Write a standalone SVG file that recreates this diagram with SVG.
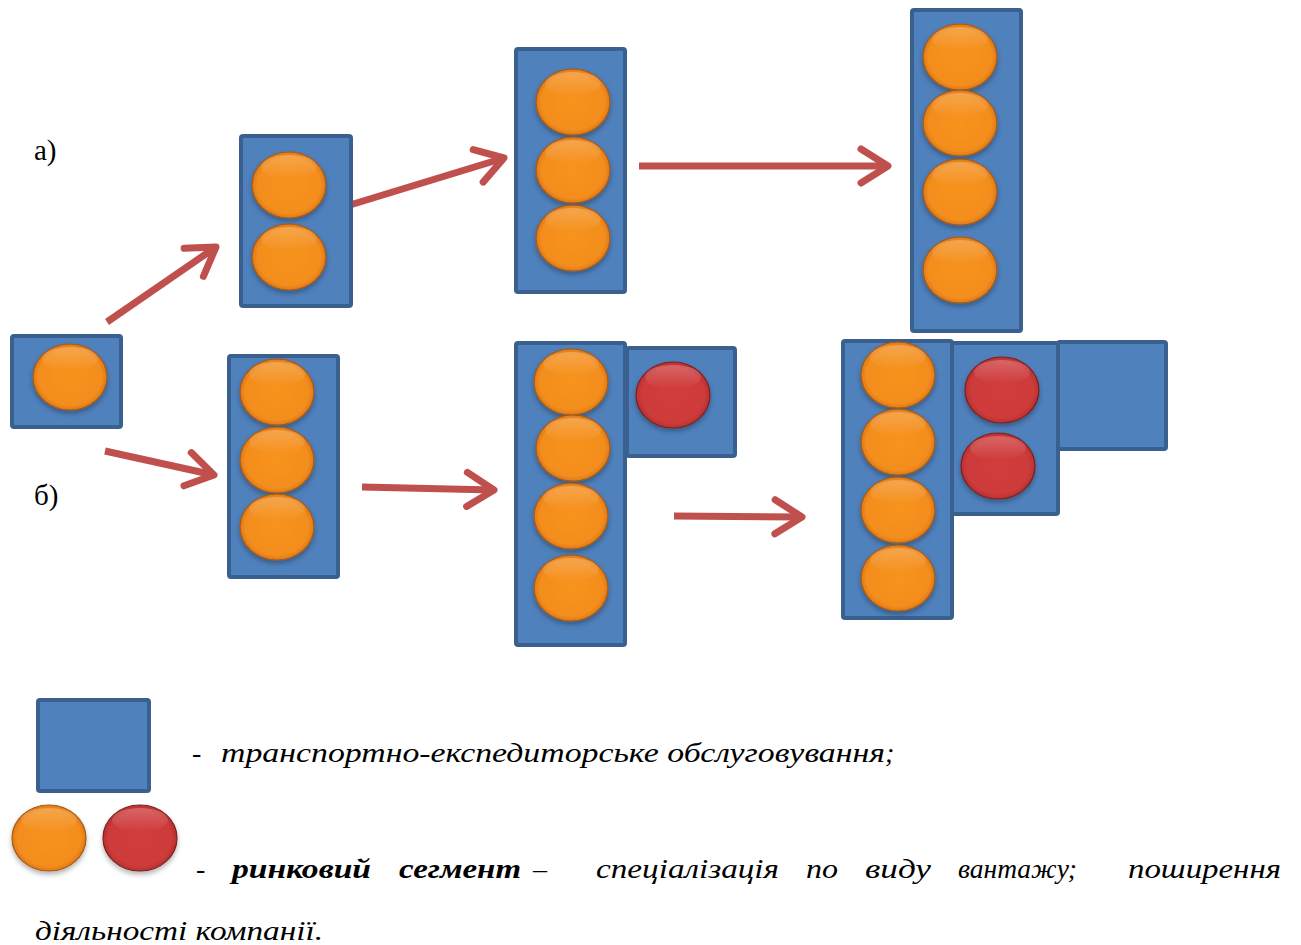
<svg xmlns="http://www.w3.org/2000/svg" width="1301" height="945" viewBox="0 0 1301 945">
  <style>
    .box { fill: #4f81bd; stroke: #3a6090; stroke-width: 4; }
    .or { fill: url(#gOrange); stroke: #a75a12; stroke-width: 1.2; }
    .rd { fill: url(#gRed); stroke: #7e1f1f; stroke-width: 1.2; }
    .hl { fill: url(#gHi); }
    .arrow { fill: none; stroke: #c0504d; stroke-width: 7; marker-end: url(#head); }
    .lbl { font-size: 29px; fill: #000; }
    .leg { font-size: 28px; font-style: italic; fill: #000; }
    .b { font-weight: bold; }
  </style>
  <defs>
    <radialGradient id="gOrange" cx="50%" cy="50%" r="55%">
      <stop offset="0" stop-color="#f7941f"/>
      <stop offset="0.78" stop-color="#f38d1c"/>
      <stop offset="0.93" stop-color="#d9761a"/>
      <stop offset="1" stop-color="#9a5416"/>
    </radialGradient>
    <radialGradient id="gRed" cx="50%" cy="50%" r="55%">
      <stop offset="0" stop-color="#d23c3c"/>
      <stop offset="0.78" stop-color="#cd3a3a"/>
      <stop offset="0.93" stop-color="#b03030"/>
      <stop offset="1" stop-color="#6e1c1c"/>
    </radialGradient>
    <linearGradient id="gHi" x1="0" y1="0" x2="0" y2="1">
      <stop offset="0" stop-color="#fff" stop-opacity="0.22"/>
      <stop offset="1" stop-color="#fff" stop-opacity="0"/>
    </linearGradient>
    <filter id="sh" x="-20%" y="-20%" width="140%" height="150%">
      <feDropShadow dx="0" dy="3" stdDeviation="2.5" flood-color="#000" flood-opacity="0.3"/>
    </filter>
    <marker id="head" markerUnits="userSpaceOnUse" viewBox="0 0 34 40" refX="30" refY="20" markerWidth="34" markerHeight="40" orient="auto" overflow="visible">
      <path d="M3,3 L30,20 L3,37" fill="none" stroke="#c0504d" stroke-width="7" stroke-linecap="round" stroke-linejoin="round"/>
    </marker>
    <g id="orange">
      <ellipse cx="0" cy="0" rx="37" ry="33" class="or" filter="url(#sh)"/>
      <ellipse cx="0" cy="-18" rx="28" ry="12" class="hl"/>
    </g>
    <g id="red">
      <ellipse cx="0" cy="0" rx="37" ry="33" class="rd" filter="url(#sh)"/>
      <ellipse cx="0" cy="-18" rx="28" ry="12" class="hl"/>
    </g>
  </defs>

  <rect width="1301" height="945" fill="#fff"/>

  <!-- row labels -->
  <g font-family="Liberation Serif, Times New Roman, serif">
    <text class="lbl" x="34" y="160">а)</text>
    <text class="lbl" x="34" y="505">б)</text>
  </g>

  <!-- connectors -->
  <g id="connectors">
    <line class="arrow" x1="107" y1="322" x2="216" y2="247"/>
    <line class="arrow" x1="350" y1="205" x2="504" y2="158"/>
    <line class="arrow" x1="639" y1="166" x2="888" y2="166"/>
    <line class="arrow" x1="105" y1="451" x2="214" y2="475"/>
    <line class="arrow" x1="362" y1="487" x2="494" y2="490"/>
    <line class="arrow" x1="674" y1="516" x2="802" y2="517"/>
  </g>

  <!-- starting company -->
  <g id="start">
    <rect class="box" x="12" y="336" width="109" height="91" rx="2"/>
    <use href="#orange" x="70" y="377"/>
  </g>

  <!-- path а) -->
  <g id="a1">
    <rect class="box" x="241" y="136" width="110" height="170" rx="2"/>
    <use href="#orange" x="289" y="185"/>
    <use href="#orange" x="289" y="257"/>
  </g>
  <g id="a2">
    <rect class="box" x="516" y="49" width="109" height="243" rx="2"/>
    <use href="#orange" x="573" y="102"/>
    <use href="#orange" x="573" y="170"/>
    <use href="#orange" x="573" y="238"/>
  </g>
  <g id="a3">
    <rect class="box" x="912" y="10" width="109" height="321" rx="2"/>
    <use href="#orange" x="960" y="57"/>
    <use href="#orange" x="960" y="123"/>
    <use href="#orange" x="960" y="192"/>
    <use href="#orange" x="960" y="270"/>
  </g>

  <!-- path б) -->
  <g id="b1">
    <rect class="box" x="229" y="356" width="109" height="221" rx="2"/>
    <use href="#orange" x="277" y="392"/>
    <use href="#orange" x="277" y="460"/>
    <use href="#orange" x="277" y="527"/>
  </g>
  <g id="b2">
    <rect class="box" x="516" y="343" width="109" height="302" rx="2"/>
    <use href="#orange" x="571" y="382"/>
    <use href="#orange" x="573" y="448"/>
    <use href="#orange" x="571" y="516"/>
    <use href="#orange" x="571" y="588"/>
    <rect class="box" x="627" y="348" width="108" height="108" rx="2"/>
    <use href="#red" x="673" y="395"/>
  </g>
  <g id="b3">
    <rect class="box" x="843" y="341" width="109" height="277" rx="2"/>
    <use href="#orange" x="898" y="375"/>
    <use href="#orange" x="898" y="442"/>
    <use href="#orange" x="898" y="510"/>
    <use href="#orange" x="898" y="578"/>
    <rect class="box" x="952" y="343" width="106" height="171" rx="2"/>
    <use href="#red" x="1002" y="390"/>
    <use href="#red" x="998" y="466"/>
    <rect class="box" x="1058" y="342" width="108" height="107" rx="2"/>
  </g>

  <!-- legend -->
  <g id="legend" font-family="Liberation Serif, Times New Roman, serif">
    <rect class="box" x="38" y="700" width="111" height="91" rx="2"/>
    <use href="#orange" x="49" y="838"/>
    <use href="#red" x="140" y="838"/>
    <text class="leg" x="192" y="762">-</text>
    <text class="leg" x="221" y="762" textLength="664" lengthAdjust="spacingAndGlyphs">транспортно-експедиторське обслуговування</text>
    <text class="leg" x="885" y="762" font-style="normal">;</text>
    <text class="leg" y="878">
      <tspan x="196">-</tspan>
      <tspan class="b" x="232" textLength="139" lengthAdjust="spacingAndGlyphs">ринковий</tspan>
      <tspan class="b" x="399" textLength="122" lengthAdjust="spacingAndGlyphs">сегмент</tspan>
      <tspan x="533" font-style="normal">–</tspan>
      <tspan x="596" textLength="183" lengthAdjust="spacingAndGlyphs">спеціалізація</tspan>
      <tspan x="806" textLength="32" lengthAdjust="spacingAndGlyphs">по</tspan>
      <tspan x="865" textLength="66" lengthAdjust="spacingAndGlyphs">виду</tspan>
      <tspan x="958" textLength="119" lengthAdjust="spacingAndGlyphs">вантажу;</tspan>
      <tspan x="1128" textLength="153" lengthAdjust="spacingAndGlyphs">поширення</tspan>
    </text>
    <text class="leg" x="35" y="940" textLength="288" lengthAdjust="spacingAndGlyphs">діяльності компанії.</text>
  </g>
</svg>
